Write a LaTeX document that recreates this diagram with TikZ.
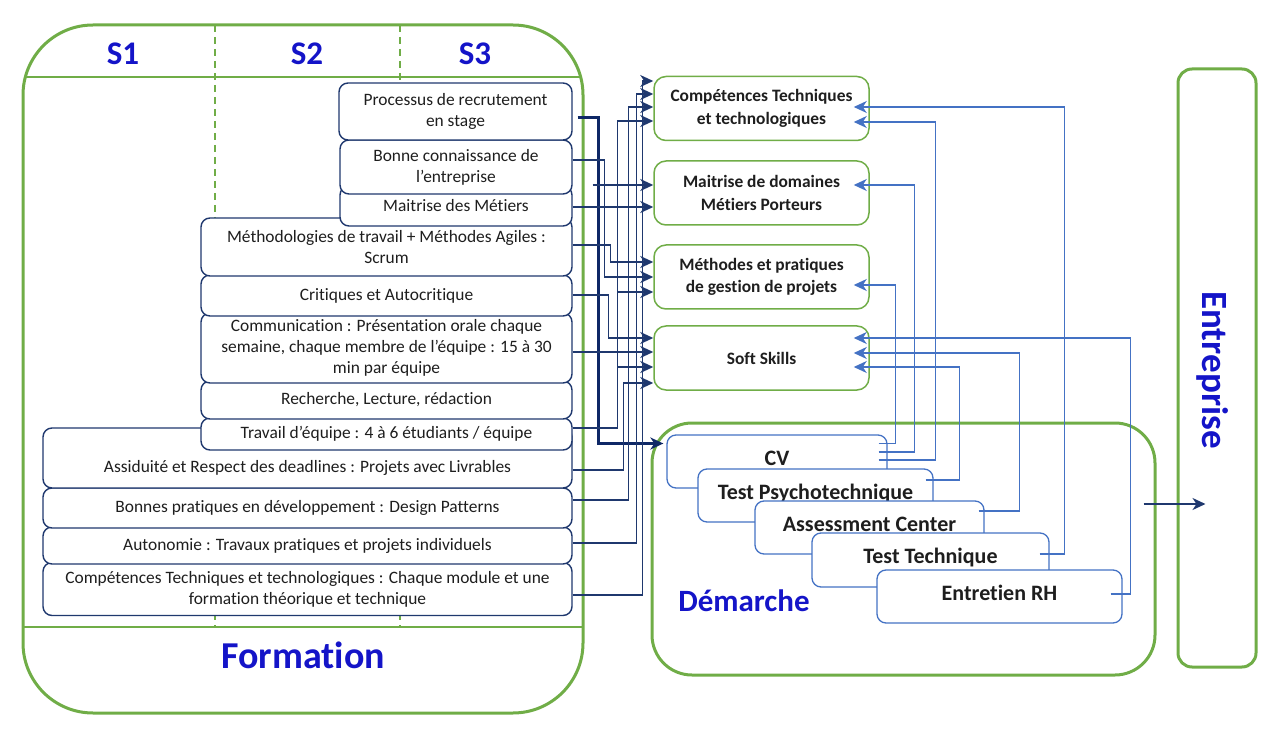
\documentclass[tikz,border=0pt]{standalone}
\usepackage{fontspec}
\setmainfont{Carlito}[Ligatures=NoCommon]
\usetikzlibrary{positioning,arrows.meta,calc}

\definecolor{leafgreen}{RGB}{112,173,71}
\definecolor{navyline}{RGB}{31,56,110}
\definecolor{darknavy}{RGB}{14,40,102}
\definecolor{thinblue}{RGB}{68,114,196}
\definecolor{titleblue}{RGB}{20,20,200}
\definecolor{inktext}{RGB}{30,30,30}

\begin{document}
\begin{tikzpicture}[x=1pt,y=-1pt,
  lbox/.style={draw=navyline, line width=1.4, rounded corners=9, fill=white, text=inktext,
    align=center, inner sep=0, font=\fontsize{17.4}{21}\selectfont},
  ltxt/.style={text=inktext, inner sep=0, font=\fontsize{17.4}{21}\selectfont},
  gbox/.style={draw=leafgreen, line width=1.5, rounded corners=12, fill=white, text=inktext,
    align=center, inner sep=0, minimum width=215, minimum height=64,
    font=\bfseries\fontsize{17.4}{22.5}\selectfont},
  dbox/.style={draw=thinblue, line width=1.3, rounded corners=9, fill=white, text=inktext,
    inner sep=0, text height=15pt, text depth=8pt, font=\bfseries\fontsize{22}{26}\selectfont},
  ttl/.style={text=titleblue, inner sep=0},
  nav/.style={draw=navyline, line width=1.5, -{Stealth[length=13pt,width=12pt,inset=4pt]}},
  lb/.style={draw=thinblue, line width=1.3, -{Stealth[length=13pt,width=12pt,inset=4pt]}}]

\useasboundingbox (0,0) rectangle (1280,751);

% Formation
\begin{scope}
  \clip[rounded corners=70] (23,25) rectangle (583,713);
  \draw[leafgreen, line width=1.5, dash pattern=on 7pt off 5pt] (215,25) -- (215,627) (400,25) -- (400,627);
  \draw[leafgreen, line width=2.5] (0,77) -- (600,77) (0,627) -- (600,627);
\end{scope}
\draw[leafgreen, line width=3, rounded corners=70] (23,25) rectangle (583,713);
\node[ttl, font=\bfseries\fontsize{33}{36}\selectfont] (s1) at (123,54) {S1};
\node[ttl, font=\bfseries\fontsize{33}{36}\selectfont] (s2) at (307,54) {S2};
\node[ttl, font=\bfseries\fontsize{33}{36}\selectfont] (s3) at (475,54) {S3};
\node[ttl, font=\bfseries\fontsize{38}{40}\selectfont] (form) at (303,655) {Formation};

% modules, du bas vers le haut
\node[lbox, minimum width=529, minimum height=53] (b12) at (307.5,589) {Compétences Techniques et technologiques : Chaque module et une\\ formation théorique et technique};
\node[lbox, minimum width=529, minimum height=37] (b11) at (307.5,545.5) {Autonomie : Travaux pratiques et projets individuels};
\node[lbox, minimum width=529, minimum height=40] (b10) at (307.5,508) {Bonnes pratiques en développement : Design Patterns};
\node[lbox, minimum width=529, minimum height=60,
  label={[ltxt,yshift=-10pt]center:{Assiduité et Respect des deadlines : Projets avec Livrables}}] (b9) at (307.5,458) {};
\node[lbox, minimum width=371, minimum height=32] (b8) at (386.5,434) {Travail d’équipe : 4 à 6 étudiants / équipe};
\node[lbox, minimum width=371, minimum height=38] (b7) at (386.5,400) {Recherche, Lecture, rédaction};
\node[lbox, minimum width=371, minimum height=70] (b6) at (386.5,348) {Communication : Présentation orale chaque\\ semaine, chaque membre de l’équipe : 15 à 30\\ min par équipe};
\node[lbox, minimum width=371, minimum height=41] (b5) at (386.5,295.5) {Critiques et Autocritique};
\node[lbox, minimum width=371, minimum height=58] (b4) at (386.5,247) {Méthodologies de travail + Méthodes Agiles :\\ Scrum};
\node[lbox, minimum width=232, minimum height=40] (b3) at (456,206) {Maitrise des Métiers};
\node[lbox, minimum width=232, minimum height=54] (b2) at (456,167) {Bonne connaissance de\\ l’entreprise};
\node[lbox, minimum width=233, minimum height=57] (b1) at (455.5,111.5) {Processus de recrutement\\ en stage};

% competences
\node[gbox] (g1) at (761.5,108.5) {Compétences Techniques\\ et technologiques};
\node[gbox] (g2) at (761.5,193) {Maitrise de domaines\\ Métiers Porteurs};
\node[gbox] (g3) at (761.5,277) {Méthodes et pratiques\\ de gestion de projets};
\node[gbox] (g4) at (761.5,358) {Soft Skills};

% Demarche
\node[draw=leafgreen, line width=3, rounded corners=40, minimum width=503, minimum height=252, inner sep=0] (dem) at (903.5,549) {};
\node[ttl, font=\bfseries\fontsize{31}{34}\selectfont] (demt) at (744,601) {Démarche};
\node[dbox, minimum width=220, minimum height=53] (cv) at (777,461.5) {CV};
\node[dbox, minimum width=235, minimum height=53] (ps) at (815.5,495.5) {Test Psychotechnique};
\node[dbox, minimum width=229, minimum height=53] (ac) at (869.5,527.5) {Assessment Center};
\node[dbox, minimum width=237, minimum height=54] (tt) at (930.5,560) {Test Technique};
\node[dbox, minimum width=245, minimum height=53] (rh) at (999.5,596.5) {Entretien RH};

% Entreprise
\node[draw=leafgreen, line width=3, rounded corners=14, minimum width=78, minimum height=598, inner sep=0] (ent) at (1217,368) {};
\node[ttl, rotate=-90, font=\bfseries\fontsize{37}{40}\selectfont] (entt) at (1213,370) {Entreprise};

% formation -> competences
\draw[nav, draw=darknavy, line width=3] ($(b1.east)+(5,6.5)$) -- ++(21,0) |- ($(cv.west)+(-3,-18)$);
\draw[nav] ($(b2.east)+(0,-7)$) -- ++(32,0) |- (g3.west);
\draw[nav] ($(b2.east)+(20,18)$) -- ($(g2.west)+(0,-8)$);
\draw[nav] ($(b3.east)+(0,1)$) -- ($(g2.west)+(0,14)$);
\draw[nav] ($(b4.east)+(0,-2)$) -- ++(38,0) |- ($(g3.west)+(0,-15)$);
\draw[nav] ($(b5.east)+(0,-0.5)$) -- ++(36,0) |- ($(g4.west)+(0,-20)$);
\draw[nav] ($(b6.east)+(0,4)$) -- ($(g4.west)+(0,-6)$);
\draw[nav] ($(b8.east)+(0,-6)$) -- ++(45,0) |- ($(g4.west)+(0,9)$);
\draw[nav] ($(b8.east)+(0,-6)$) -- ++(45,0) |- ($(g3.west)+(0,15)$);
\draw[nav] ($(b8.east)+(0,-6)$) -- ++(45,0) |- ($(g1.west)+(0,12.5)$);
\draw[nav] ($(b9.east)+(0,12)$) -- ++(51,0) |- ($(g4.west)+(0,25)$);
\draw[nav] ($(b10.east)+(0,-8)$) -- ++(56,0) |- ($(g1.west)+(0,-1.5)$);
\draw[nav] ($(b11.east)+(0,-2.5)$) -- ++(64,0) |- ($(g1.west)+(0,-14.5)$);
\draw[nav] ($(b12.east)+(0,6)$) -- ++(70,0) |- ($(g1.west)+(0,-27.5)$);

% demarche -> competences
\draw[lb] ($(cv.east)+(-9,-18)$) -- ++(17,0) |- ($(g3.east)+(-16,8)$);
\draw[lb] ($(cv.east)+(-9,-9.5)$) -- ++(36,0) |- ($(g2.east)+(-16,-8)$);
\draw[lb] ($(cv.east)+(-9,-1.5)$) -- ++(57,0) |- ($(g1.east)+(-16,13.5)$);
\draw[lb] ($(ps.east)+(-8,-15.5)$) -- ++(34,0) |- ($(g4.east)+(-16,9)$);
\draw[lb] ($(ac.east)+(-6,-16.5)$) -- ++(41,0) |- ($(g4.east)+(-16,-5)$);
\draw[lb] ($(tt.east)+(-10,-6)$) -- ++(25,0) |- ($(g1.east)+(-16,-1.5)$);
\draw[lb] ($(rh.east)+(-12,-2.5)$) -- ++(20,0) |- ($(g4.east)+(-16,-20)$);

\draw[nav, line width=2] ($(dem.east)+(-13,-45)$) -- ($(ent.west)+(29,136)$);
\end{tikzpicture}
\end{document}
